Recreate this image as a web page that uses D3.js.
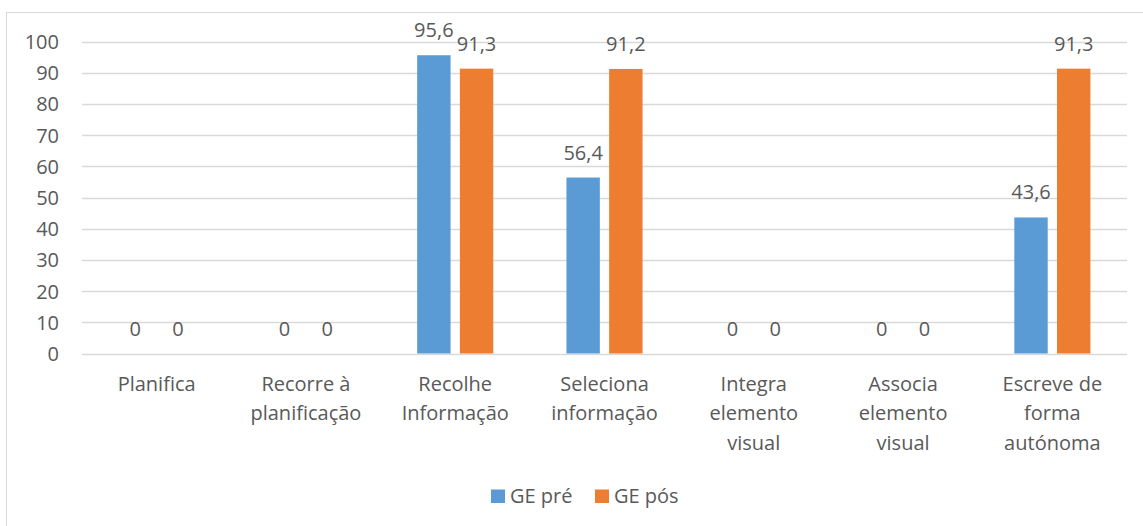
<!DOCTYPE html>
<html>
<head>
<meta charset="utf-8">
<script src="https://cdn.jsdelivr.net/npm/d3@7/dist/d3.min.js"></script>
<style>
  html, body { margin: 0; padding: 0; background: #fff; }
  svg { display: block; }
  text { font-family: "Open Sans", "Noto Sans", sans-serif; fill: #595959; }
</style>
</head>
<body>
<svg id="chart" width="1143" height="526"></svg>
<script>
// Skill categories (multi-line labels)
const categories = [
  ["Planifica"],
  ["Recorre à", "planificação"],
  ["Recolhe", "Informação"],
  ["Seleciona", "informação"],
  ["Integra", "elemento", "visual"],
  ["Associa", "elemento", "visual"],
  ["Escreve de", "forma", "autónoma"]
];
const seriesNames = ["GE pré", "GE pós"];
const gePre = [0, 0, 95.6, 56.4, 0, 0, 43.6];
const gePos = [0, 0, 91.3, 91.2, 0, 0, 91.3];
const yTicks = [0, 10, 20, 30, 40, 50, 60, 70, 80, 90, 100];
const colors = ["#5b9bd5", "#ed7d31"];

const svg = d3.select("#chart");
const fontSize = 20;

// Outer chart frame
svg.append("rect")
  .attr("x", 6.5).attr("y", 12.5)
  .attr("width", 1160).attr("height", 560)
  .attr("fill", "none").attr("stroke", "#d9d9d9").attr("stroke-width", 1);

const plot = { left: 82, right: 1127, top: 41.5, bottom: 353.5 };

const keys = categories.map((c, i) => i);
const x0 = d3.scaleBand().domain(keys).range([plot.left, plot.right]).paddingInner(0).paddingOuter(0);
const groupPad = 36.6;
const x1 = d3.scaleBand().domain(seriesNames)
  .range([groupPad, x0.bandwidth() - groupPad]).paddingInner(0.218).paddingOuter(0);
const y = d3.scaleLinear().domain([0, 100]).range([plot.bottom, plot.top]);

// Horizontal gridlines
svg.append("g").selectAll("line").data(yTicks).join("line")
  .attr("x1", plot.left).attr("x2", plot.right)
  .attr("y1", d => Math.round(y(d)) + 0.5).attr("y2", d => Math.round(y(d)) + 0.5)
  .attr("stroke", "#d9d9d9").attr("stroke-width", 1.3);

// Y axis labels
const yAxis = d3.axisLeft(y).tickValues(yTicks).tickSize(0).tickPadding(0);
const yg = svg.append("g").attr("transform", `translate(${plot.left - 23},0)`).call(yAxis);
yg.select(".domain").remove();
yg.selectAll("text").attr("font-size", fontSize).attr("fill", "#595959")
  .attr("font-family", null).attr("dy", "0.35em");

const table = keys.map(i => ({ i, values: [gePre[i], gePos[i]] }));

const groups = svg.append("g").selectAll("g").data(table).join("g")
  .attr("transform", d => `translate(${x0(d.i)},0)`);

// Bars
groups.selectAll("rect").data(d => d.values.map((v, k) => ({ v, k })))
  .join("rect")
  .attr("x", d => x1(seriesNames[d.k]))
  .attr("width", x1.bandwidth())
  .attr("y", d => y(d.v))
  .attr("height", d => y(0) - y(d.v))
  .attr("fill", d => colors[d.k]);

// Value labels
groups.selectAll("text.val").data(d => d.values.map((v, k) => ({ v, k })))
  .join("text").attr("class", "val")
  .attr("x", d => x1(seriesNames[d.k]) + x1.bandwidth() / 2)
  .attr("y", d => y(d.v) - 18)
  .attr("text-anchor", "middle")
  .attr("font-size", fontSize)
  .text(d => String(d.v).replace(".", ","));

// Category labels
const catG = svg.append("g").selectAll("text").data(table).join("text")
  .attr("text-anchor", "middle")
  .attr("font-size", fontSize)
  .attr("transform", d => `translate(${x0(d.i) + x0.bandwidth() / 2},0)`);
catG.selectAll("tspan").data(d => categories[d.i]).join("tspan")
  .attr("x", 0)
  .attr("y", (d, j) => 390.5 + j * 29.7)
  .text(d => d);

// Legend
const legend = svg.append("g");
const legendX = [491, 595];
seriesNames.forEach((name, k) => {
  legend.append("rect")
    .attr("x", legendX[k]).attr("y", 489.5)
    .attr("width", 14).attr("height", 13.5)
    .attr("fill", colors[k]);
  legend.append("text")
    .attr("x", legendX[k] + 19).attr("y", 503)
    .attr("font-size", fontSize)
    .text(name);
});
</script>
</body>
</html>
